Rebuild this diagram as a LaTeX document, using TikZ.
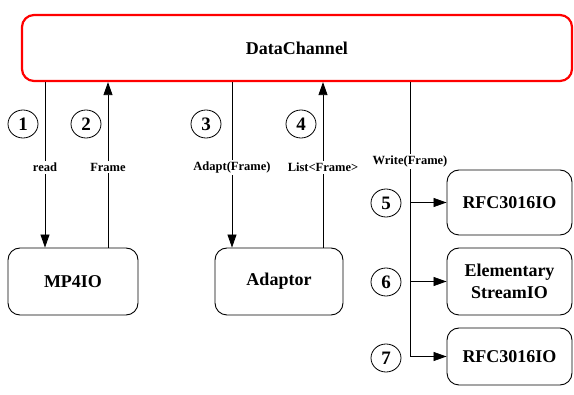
\documentclass[tikz,border=0pt]{standalone}
\usepackage{fontspec}
\setmainfont{Liberation Serif}
\usetikzlibrary{arrows.meta,shapes.geometric}
\tikzset{
  box/.style={draw=black, line width=0.9pt, rounded corners=12pt, inner sep=0pt, align=center,
    font=\fontsize{18}{22}\selectfont\bfseries},
  chan/.style={draw=red, line width=2.2pt, rounded corners=12pt, inner sep=0pt,
    font=\fontsize{18}{22}\selectfont\bfseries},
  num/.style={draw=black, line width=0.8pt, ellipse, minimum width=30pt, minimum height=28pt, inner sep=0pt,
    font=\fontsize{19}{20}\selectfont\bfseries},
  lbl/.style={fill=white, inner sep=2pt, font=\fontsize{12.5}{14}\selectfont\bfseries},
  con/.style={draw=black, line width=0.8pt},
  arr/.style={con, -{Triangle[length=13pt,width=9pt]}},
}
\begin{document}
\begin{tikzpicture}[x=1pt,y=-1pt]
\useasboundingbox (0,0) rectangle (574,395);
\node[chan, minimum width=550pt, minimum height=66pt] (dc) at (297,48) {DataChannel};
\node[box, minimum width=130pt, minimum height=67pt] (mp4) at (73,281.5) {MP4IO};
\node[box, minimum width=128pt, minimum height=67pt] (ad) at (279,281.5) {Adaptor};
\node[box, minimum width=125pt, minimum height=65pt] (rfc1) at (509.5,202.5) {RFC3016IO};
\node[box, minimum width=125pt, minimum height=67pt] (es) at (509.5,281.5) {Elementary\\StreamIO};
\node[box, minimum width=125pt, minimum height=57pt] (rfc2) at (509.5,356.5) {RFC3016IO};
% number circles
\node[num] (n1) at (23,124) {1};
\node[num] (n2) at (86,124) {2};
\node[num] (n3) at (206,124) {3};
\node[num] (n4) at (301,124) {4};
\node[num] (n5) at (386,203) {5};
\node[num] (n6) at (386,282) {6};
\node[num] (n7) at (386,358) {7};
% x positions of connectors
\coordinate (c1) at (45,0);
\coordinate (c2) at (108,0);
\coordinate (c3) at (232,0);
\coordinate (c4) at (323,0);
\coordinate (c5) at (410,0);
% connectors
\draw[arr] (c1 |- dc.south) -- node[lbl, pos=0.515] {read} (c1 |- mp4.north);
\draw[arr] (c2 |- mp4.north) -- node[lbl, pos=0.485] {Frame} (c2 |- dc.south);
\draw[arr] (c3 |- dc.south) -- node[lbl, pos=0.515] {Adapt(Frame)} (c3 |- ad.north);
\draw[arr] (c4 |- ad.north) -- node[lbl, pos=0.485] {List<Frame>} (c4 |- dc.south);
\coordinate (w7) at (c5 |- rfc2.west);
\draw[con] (c5 |- dc.south) -- node[lbl, pos=0.29] {Write(Frame)} (w7);
\draw[arr] (c5 |- rfc1.west) -- (rfc1.west);
\draw[arr] (c5 |- es.west) -- (es.west);
\draw[arr] (w7) -- (rfc2.west);
\end{tikzpicture}
\end{document}
